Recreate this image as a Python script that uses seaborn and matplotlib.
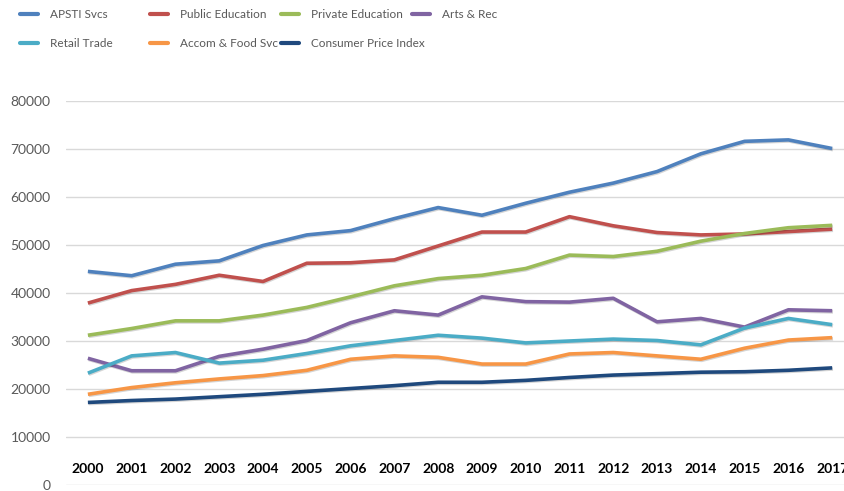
import numpy as np
import pandas as pd
import matplotlib
matplotlib.use('Agg')
import matplotlib.pyplot as plt
import matplotlib.patheffects as pe
import seaborn as sns

years = list(range(2000, 2018))

apsti = [44500, 43600, 46000, 46700, 49900, 52100, 53000, 55500, 57800, 56200,
         58700, 61000, 62900, 65300, 69000, 71600, 71900, 70100]
public_ed = [37900, 40500, 41800, 43700, 42400, 46200, 46300, 46900, 49800, 52700,
             52700, 55900, 54000, 52600, 52100, 52300, 52800, 53300]
private_ed = [31200, 32600, 34200, 34200, 35400, 37000, 39200, 41500, 43000, 43700,
              45100, 47900, 47600, 48700, 50800, 52400, 53600, 54100]
arts_rec = [26400, 23800, 23800, 26800, 28300, 30100, 33800, 36300, 35400, 39200,
            38200, 38100, 38900, 34000, 34700, 32900, 36500, 36300]
retail = [23300, 26900, 27600, 25400, 26000, 27400, 29000, 30100, 31200, 30600,
          29600, 30000, 30400, 30100, 29200, 32700, 34700, 33400]
accom_food = [18900, 20300, 21300, 22100, 22800, 23900, 26200, 26900, 26600, 25200,
              25200, 27300, 27600, 26900, 26200, 28500, 30200, 30700]
cpi = [17200, 17600, 17900, 18400, 18900, 19500, 20100, 20700, 21400, 21400,
       21800, 22400, 22900, 23200, 23500, 23600, 23900, 24400]

series_names = ['APSTI Svcs', 'Public Education', 'Private Education', 'Arts & Rec',
                'Retail Trade', 'Accom & Food Svc', 'Consumer Price Index']
series_values = [apsti, public_ed, private_ed, arts_rec, retail, accom_food, cpi]
colors = ['#4F81BD', '#C0504D', '#9BBB59', '#8064A2', '#4BACC6', '#F79646', '#1F497D']

y_ticks = list(range(0, 80001, 10000))

# long-form table for seaborn
rows = []
for name, vals in zip(series_names, series_values):
    for i, v in enumerate(vals):
        rows.append({'idx': i, 'value': v, 'series': name})
df = pd.DataFrame(rows)

sns.set_theme(style='white')
plt.rcParams['font.family'] = ['Lato', 'DejaVu Sans']

fig = plt.figure(figsize=(8.44, 4.91), dpi=100)
ax = fig.add_axes([66 / 844, 1 - 485 / 491, 1 - 66 / 844, (485 - 101) / 491])

palette = dict(zip(series_names, colors))
sns.lineplot(data=df, x='idx', y='value', hue='series', hue_order=series_names,
             palette=palette, linewidth=2.6, ax=ax, legend=False)

for line in ax.get_lines():
    line.set_path_effects([pe.SimpleLineShadow(offset=(0.6, -0.8), alpha=0.18),
                           pe.Normal()])
    line.set_solid_capstyle('butt')

ax.set_ylim(0, 80000)
ax.set_xlim(-0.5, 17.27)
ax.set_yticks(y_ticks)
ax.set_yticklabels([str(t) for t in y_ticks], color='#595959', fontsize=10)
ax.set_xticks(range(len(years)))
ax.set_xticklabels([str(y) for y in years], fontsize=10, fontweight='bold', color='black')
ax.tick_params(axis='x', length=0, pad=-16)
ax.tick_params(axis='y', length=0, pad=11)
ax.set_xlabel('')
ax.set_ylabel('')
ax.grid(axis='y', color='#D9D9D9', linewidth=1)
ax.grid(axis='x', visible=False)
ax.set_axisbelow(True)
for s in ax.spines.values():
    s.set_visible(False)

# legend: four columns, two rows
handles = {n: plt.Line2D([], [], color=c, linewidth=3) for n, c in zip(series_names, colors)}
columns = [['APSTI Svcs', 'Retail Trade'], ['Public Education', 'Accom & Food Svc'],
           ['Private Education', 'Consumer Price Index'], ['Arts & Rec']]
col_x = [20, 150, 281, 412]
for names, x in zip(columns, col_x):
    leg = fig.legend([handles[n] for n in names], names, loc='upper left',
                     bbox_to_anchor=(x / 844, 1 - 9 / 491), frameon=False,
                     borderpad=0, borderaxespad=0, handlelength=1.55,
                     handletextpad=0.95, labelspacing=1.5,
                     prop={'size': 8.5})
    for t in leg.get_texts():
        t.set_color('#595959')

fig.savefig('out.png', dpi=100)
